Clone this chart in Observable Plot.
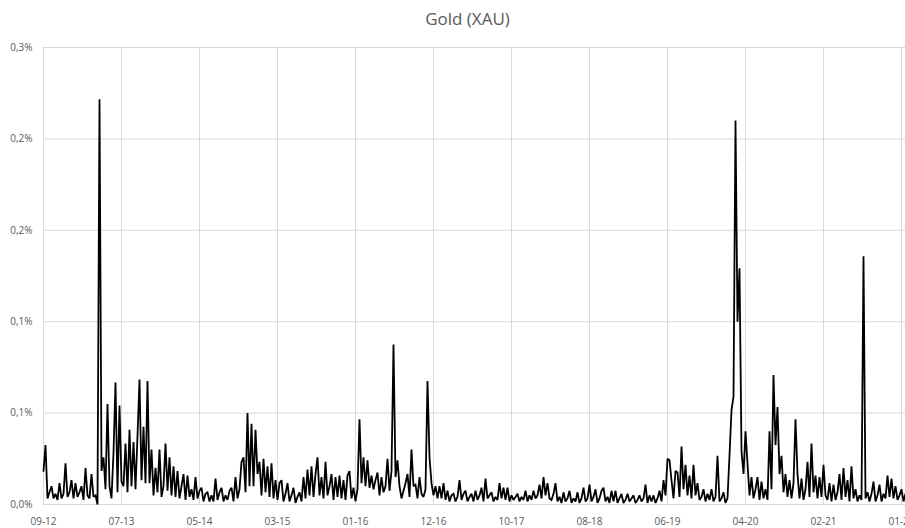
<!DOCTYPE html>
<html>
<head>
<meta charset="utf-8">
<script src="https://cdn.jsdelivr.net/npm/d3@7"></script>
<script src="https://cdn.jsdelivr.net/npm/@observablehq/plot@0.6"></script>
<style>
  html, body { margin: 0; padding: 0; background: white; overflow: hidden; }
  #title { width: 905px; height: 36px; box-sizing: border-box; padding-top: 2px; padding-left: 30px;
           line-height: 34px; text-align: center; font-family: "Open Sans", sans-serif; font-size: 17px; color: #595959; }
</style>
</head>
<body>
<div id="title">Gold (XAU)</div>
<div id="chart"></div>
<script>
const title = "Gold (XAU)";
const xTickLabels = ["09-12","07-13","05-14","03-15","01-16","12-16","10-17","08-18","06-19","04-20","02-21","01-22"];
const yTicks = [0, 0.06, 0.12, 0.18, 0.24, 0.30];
const yTickLabels = ["0,0%","0,1%","0,1%","0,2%","0,2%","0,3%"];
// daily values, in percent
const values = [
 0.022,0.039,0.004,0.008,0.012,0.004,0.007,0.003,0.014,0.004,
 0.007,0.027,0.005,0.008,0.016,0.004,0.014,0.005,0.008,0.012,
 0.003,0.024,0.006,0.004,0.020,0.005,0.006,0.000,0.266,0.022,
 0.031,0.010,0.066,0.012,0.004,0.034,0.080,0.008,0.065,0.015,
 0.012,0.040,0.008,0.049,0.012,0.041,0.010,0.045,0.082,0.016,
 0.051,0.014,0.081,0.014,0.036,0.006,0.024,0.008,0.036,0.005,
 0.012,0.040,0.009,0.031,0.006,0.025,0.005,0.022,0.004,0.012,
 0.020,0.003,0.019,0.005,0.010,0.003,0.018,0.004,0.009,0.011,
 0.002,0.007,0.008,0.002,0.006,0.002,0.017,0.003,0.008,0.011,
 0.002,0.006,0.003,0.009,0.011,0.002,0.018,0.004,0.010,0.028,
 0.031,0.008,0.060,0.012,0.053,0.012,0.049,0.020,0.028,0.006,
 0.030,0.008,0.025,0.005,0.027,0.004,0.016,0.003,0.014,0.016,
 0.002,0.007,0.014,0.002,0.006,0.011,0.001,0.005,0.008,0.002,
 0.018,0.004,0.023,0.006,0.025,0.005,0.020,0.031,0.006,0.018,
 0.004,0.028,0.006,0.012,0.020,0.003,0.018,0.005,0.019,0.004,
 0.016,0.003,0.019,0.022,0.004,0.011,0.002,0.010,0.056,0.014,
 0.031,0.012,0.029,0.011,0.019,0.010,0.016,0.021,0.006,0.018,
 0.008,0.012,0.030,0.009,0.022,0.105,0.018,0.029,0.012,0.004,
 0.009,0.014,0.020,0.005,0.036,0.012,0.013,0.004,0.018,0.007,
 0.005,0.010,0.081,0.031,0.014,0.006,0.012,0.004,0.012,0.004,
 0.014,0.003,0.009,0.002,0.006,0.007,0.002,0.005,0.016,0.003,
 0.007,0.009,0.002,0.005,0.007,0.002,0.009,0.003,0.006,0.011,
 0.002,0.017,0.004,0.006,0.008,0.002,0.005,0.003,0.014,0.004,
 0.011,0.003,0.011,0.002,0.006,0.003,0.005,0.007,0.002,0.005,
 0.003,0.009,0.002,0.006,0.003,0.009,0.004,0.006,0.013,0.004,
 0.018,0.006,0.014,0.004,0.003,0.007,0.014,0.002,0.005,0.001,
 0.008,0.002,0.004,0.009,0.001,0.004,0.002,0.008,0.001,0.004,
 0.011,0.002,0.004,0.013,0.002,0.005,0.010,0.001,0.004,0.009,
 0.011,0.002,0.005,0.001,0.009,0.002,0.009,0.001,0.004,0.007,
 0.001,0.003,0.007,0.002,0.004,0.006,0.001,0.003,0.006,0.002,
 0.004,0.013,0.001,0.006,0.002,0.006,0.001,0.004,0.009,0.002,
 0.016,0.006,0.030,0.029,0.016,0.004,0.022,0.021,0.005,0.038,
 0.010,0.026,0.006,0.019,0.004,0.026,0.006,0.014,0.003,0.005,
 0.010,0.002,0.007,0.003,0.010,0.002,0.005,0.032,0.002,0.004,
 0.008,0.001,0.004,0.032,0.062,0.071,0.252,0.120,0.155,0.035,
 0.020,0.048,0.027,0.006,0.018,0.004,0.010,0.018,0.003,0.015,
 0.004,0.010,0.003,0.048,0.010,0.085,0.039,0.064,0.020,0.032,
 0.008,0.020,0.005,0.016,0.004,0.014,0.056,0.020,0.004,0.017,
 0.003,0.010,0.028,0.005,0.040,0.008,0.019,0.004,0.018,0.005,
 0.026,0.006,0.003,0.014,0.002,0.013,0.003,0.008,0.020,0.003,
 0.024,0.005,0.016,0.002,0.025,0.004,0.010,0.002,0.006,0.003,
 0.163,0.004,0.008,0.002,0.007,0.015,0.002,0.006,0.013,0.002,
 0.007,0.004,0.019,0.005,0.017,0.004,0.012,0.003,0.006,0.010,
 0.002,0.007
];

const pointsPerTick = 39;
const data = values.map((v, i) => ({ i, v }));
const xTicks = xTickLabels.map((_, k) => k * pointsPerTick);
const xLabelMap = new Map(xTicks.map((t, k) => [t, xTickLabels[k]]));
const yLabelMap = new Map(yTicks.map((t, k) => [t, yTickLabels[k]]));

const chart = Plot.plot({
  width: 905,
  height: 492,
  marginTop: 11,
  marginBottom: 24,
  marginLeft: 43,
  marginRight: 0,
  style: { fontFamily: "'Open Sans', sans-serif", fontSize: "10px", color: "#595959", background: "white" },
  x: { domain: [0, values.length - 1] },
  y: { domain: [0, 0.3] },
  marks: [
    Plot.gridX(xTicks, { stroke: "#d9d9d9", strokeOpacity: 1, strokeWidth: 1 }),
    Plot.gridY(yTicks, { stroke: "#d9d9d9", strokeOpacity: 1, strokeWidth: 1 }),
    Plot.axisX(xTicks, { tickSize: 0, tickPadding: 13, tickFormat: d => xLabelMap.get(d), fill: "#595959", label: null }),
    Plot.axisY(yTicks, { tickSize: 0, tickPadding: 11, tickFormat: d => yLabelMap.get(d), fill: "#595959", label: null }),
    Plot.lineY(data, { x: "i", y: "v", stroke: "#000", strokeWidth: 1.8, strokeLinejoin: "miter", strokeMiterlimit: 2 })
  ]
});
document.getElementById("chart").appendChild(chart);
</script>
</body>
</html>
